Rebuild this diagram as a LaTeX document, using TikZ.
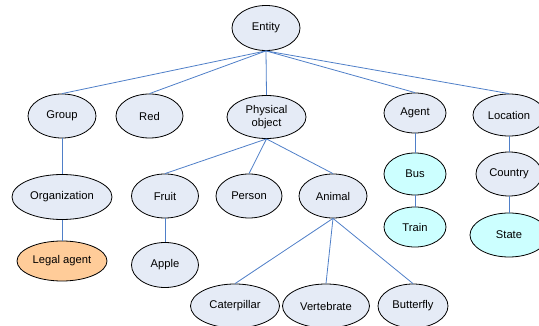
\documentclass[tikz,border=0pt]{standalone}
\usepackage{fontspec}
\setmainfont{Liberation Sans}
\usetikzlibrary{shapes.geometric}
\definecolor{conceptfill}{HTML}{E5EBF6}
\definecolor{cyanfill}{HTML}{CCFFFF}
\definecolor{orangefill}{HTML}{FFCC99}
\definecolor{linkblue}{HTML}{4F7FC8}

\begin{document}
\begin{tikzpicture}[x=1pt,y=-1pt,
    concept/.style={ellipse, draw=black, line width=0.8pt, fill=conceptfill, inner sep=0pt,
        align=center, font=\fontsize{11.2}{12.5}\selectfont},
    link/.style={draw=linkblue, line width=0.8pt}]
\useasboundingbox (0,0) rectangle (539,326);

% top
\node[concept, minimum width=68, minimum height=45] (entity) at (266,28) {Entity};

% second row
\node[concept, minimum width=68, minimum height=44] (group) at (62,116) {Group};
\node[concept, minimum width=67, minimum height=44] (red) at (149.5,116) {Red};
\node[concept, minimum width=79, minimum height=43] (physobj) at (266.5,117) {Physical\\object};
\node[concept, minimum width=62, minimum height=40] (agent) at (415,113) {Agent};
\node[concept, minimum width=72, minimum height=42] (location) at (509,115) {Location};

% third row
\node[concept, minimum width=100, minimum height=45] (organization) at (62,197) {Organization};
\node[concept, minimum width=67, minimum height=44] (fruit) at (165,196) {Fruit};
\node[concept, minimum width=66, minimum height=44] (person) at (249,196) {Person};
\node[concept, minimum width=68, minimum height=44] (animal) at (333,196) {Animal};
\node[concept, fill=cyanfill, minimum width=62, minimum height=42] (bus) at (415,174) {Bus};
\node[concept, minimum width=66, minimum height=44] (country) at (509,174) {Country};

% fourth row
\node[concept, fill=orangefill, minimum width=90, minimum height=40] (legalagent) at (62,261) {Legal agent};
\node[concept, minimum width=67, minimum height=45] (apple) at (165,265) {Apple};
\node[concept, fill=cyanfill, minimum width=62, minimum height=40] (train) at (415,227) {Train};
\node[concept, fill=cyanfill, minimum width=78, minimum height=44] (state) at (509,235) {State};

% bottom
\node[concept, minimum width=89, minimum height=44] (caterpillar) at (235,306) {Caterpillar};
\node[concept, minimum width=87, minimum height=44] (vertebrate) at (326,306) {Vertebrate};
\node[concept, minimum width=70, minimum height=44] (butterfly) at (413,306) {Butterfly};

% links parent -> child
\foreach \a/\b in {entity/group, entity/red, entity/physobj, entity/agent, entity/location,
    group/organization, organization/legalagent,
    physobj/fruit, physobj/person, physobj/animal, fruit/apple,
    animal/caterpillar, animal/vertebrate, animal/butterfly,
    agent/bus, bus/train, location/country, country/state} {
    \draw[link] (\a.south) -- (\b.north);
}
\end{tikzpicture}
\end{document}
